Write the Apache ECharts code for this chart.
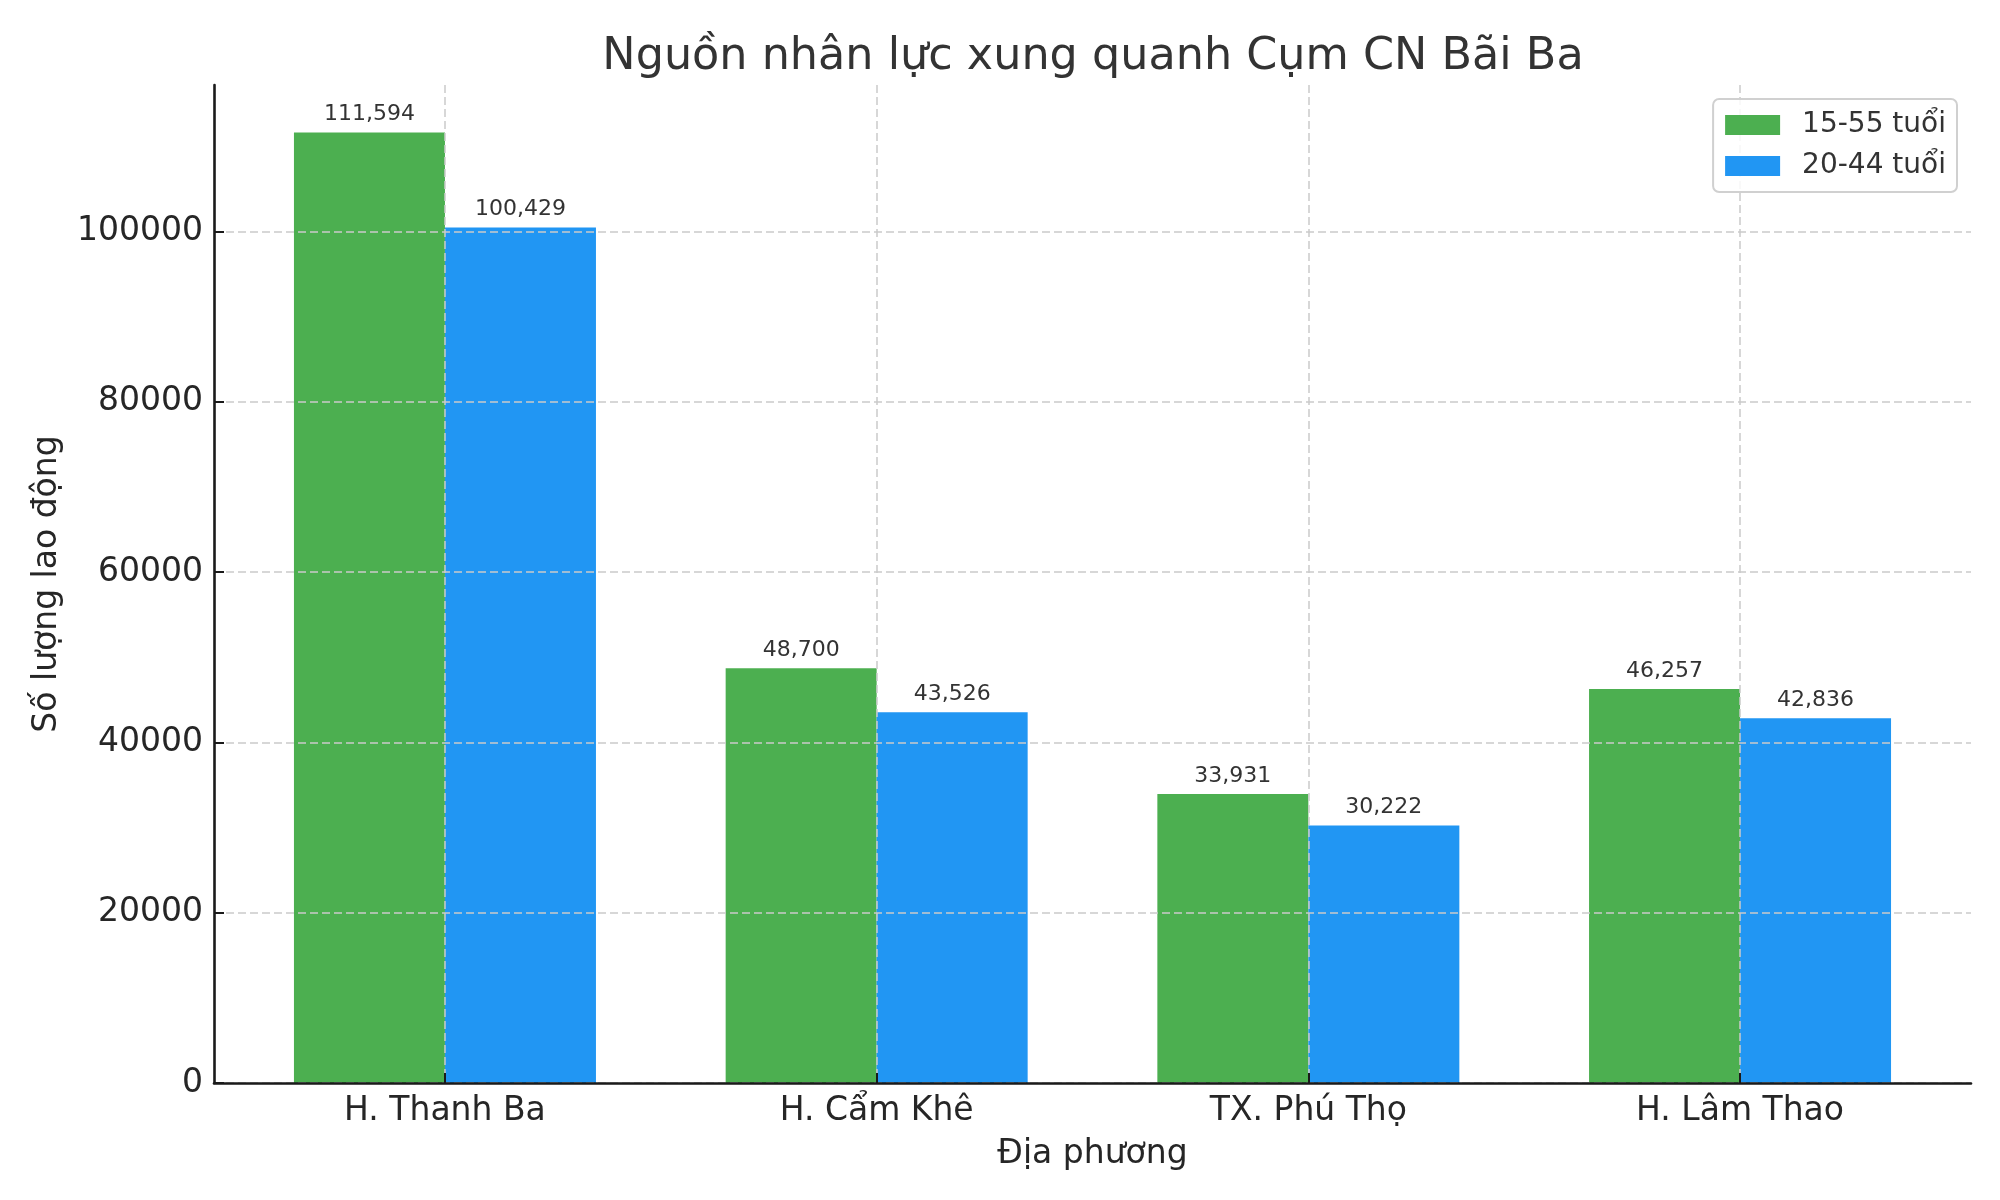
<!DOCTYPE html>
<html>
<head>
<meta charset="utf-8">
<script src="https://cdn.jsdelivr.net/npm/echarts@6/dist/echarts.min.js"></script>
<style>html,body{margin:0;padding:0;background:#fff;}#c{width:2000px;height:1200px;}</style>
</head>
<body>
<div id="c"></div>
<script>
const categories = ['H. Thanh Ba', 'H. Cẩm Khê', 'TX. Phú Thọ', 'H. Lâm Thao'];
const seriesNames = ['15-55 tuổi', '20-44 tuổi'];
const values1555 = [111594, 48700, 33931, 46257];
const values2044 = [100429, 43526, 30222, 42836];
const yTicks = [0, 20000, 40000, 60000, 80000, 100000];
const xTicks = [0, 1, 2, 3];
const titleText = 'Nguồn nhân lực xung quanh Cụm CN Bãi Ba';
const xName = 'Địa phương';
const yName = 'Số lượng lao động';

const FONT = 'DejaVu Sans';
const chart = echarts.init(document.getElementById('c'), null, {renderer: 'canvas'});
const toPairs = arr => arr.map((v, i) => [xTicks[i], v]);
const fmt = v => Number(v).toLocaleString('en-US');
const gridColor = '#cacaca';

const option = {
  backgroundColor: '#ffffff',
  animation: false,
  textStyle: {fontFamily: FONT},
  title: {
    text: titleText,
    left: 1088, textAlign: 'center', top: 30,
    textStyle: {fontFamily: FONT, fontSize: 44.5, fontWeight: 'normal', color: '#333333'}
  },
  legend: {
    data: seriesNames,
    right: 43, top: 99,
    orient: 'vertical',
    icon: 'rect',
    itemWidth: 55, itemHeight: 20, itemGap: 13,
    padding: [12, 11, 12, 12],
    backgroundColor: 'rgba(255,255,255,0.85)',
    borderColor: '#d0d0d0', borderWidth: 2, borderRadius: 6,
    textStyle: {fontFamily: FONT, fontSize: 28, color: '#333333', padding: [0, 0, 0, 17]}
  },
  grid: {left: 214, right: 29, top: 85, bottom: 117, containLabel: false},
  xAxis: {
    type: 'value', min: -0.535, max: 3.535, z: 3,
    name: xName, nameLocation: 'middle', nameGap: 55,
    nameTextStyle: {fontFamily: FONT, fontSize: 33, color: '#262626'},
    axisLine: {show: true, onZero: false, lineStyle: {color: '#1a1a1a', width: 2.6}},
    axisTick: {show: true, inside: true, length: 10, customValues: xTicks, lineStyle: {color: '#1a1a1a', width: 2}},
    axisLabel: {
      customValues: xTicks, margin: 12,
      fontFamily: FONT, fontSize: 33, color: '#262626',
      formatter: v => categories[Math.round(v)] || ''
    },
    splitLine: {show: true, showMinLine: true, showMaxLine: true, lineStyle: {color: gridColor, width: 1.5, type: [8, 4]}}
  },
  yAxis: {
    type: 'value', min: 0, max: 117174, z: 3,
    name: yName, nameLocation: 'middle', nameGap: 150, nameRotate: 90,
    nameTextStyle: {fontFamily: FONT, fontSize: 33, color: '#262626'},
    axisLine: {show: true, onZero: false, lineStyle: {color: '#1a1a1a', width: 2.6}},
    axisTick: {show: true, inside: true, length: 10, customValues: yTicks, lineStyle: {color: '#1a1a1a', width: 2}},
    axisLabel: {
      customValues: yTicks, margin: 11,
      fontFamily: FONT, fontSize: 33, color: '#262626',
      formatter: v => String(v)
    },
    splitLine: {show: true, showMinLine: true, showMaxLine: true, lineStyle: {color: gridColor, width: 1.5, type: [8, 4]}}
  },
  series: [
    {
      name: seriesNames[0], type: 'bar', data: toPairs(values1555),
      barWidth: 151, barGap: '0%',
      itemStyle: {color: '#4CAF50'},
      label: {show: true, position: 'top', distance: 7, fontFamily: FONT, fontSize: 22, color: '#333333',
        formatter: p => fmt(p.value[1])}
    },
    {
      name: seriesNames[1], type: 'bar', data: toPairs(values2044),
      barWidth: 151, barGap: '0%',
      itemStyle: {color: '#2196F3'},
      label: {show: true, position: 'top', distance: 7, fontFamily: FONT, fontSize: 22, color: '#333333',
        formatter: p => fmt(p.value[1])}
    }
  ]
};
chart.setOption(option);
</script>
</body>
</html>
